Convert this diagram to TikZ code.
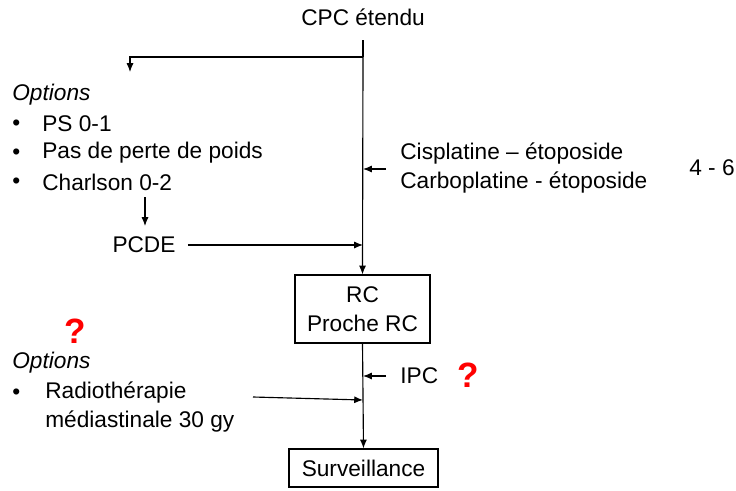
\documentclass[tikz,border=0pt]{standalone}
\usepackage{fontspec}
\setmainfont{Liberation Sans}
\usepackage{xcolor}
\usetikzlibrary{arrows.meta, positioning}

\begin{document}
\begin{tikzpicture}[
        x=0.02cm, y=-0.02cm,
        font=\fontsize{12.9}{16.4}\selectfont,
        box/.style={rectangle, draw, line width=0.65pt, minimum height=2em, inner sep=0pt},
        arrow/.style={line width=0.65pt, -{Latex[length=5pt, width=4pt]}},
        txt/.style={anchor=west, inner sep=0pt},
        ask/.style={text=red, font=\fontsize{20}{20}\selectfont\bfseries, inner sep=0pt}
    ]
        \useasboundingbox (0,0) rectangle (736,490);
        % main column
        \node[inner sep=0pt] (cpc) at (363,17) {CPC étendu};
        \node[box, minimum width=135*0.02cm, minimum height=68*0.02cm, align=center] (rc) at (362.5,309) {RC\\Proche RC};
        \node[box, minimum width=149*0.02cm, minimum height=38*0.02cm] (surv) at (363.5,468) {Surveillance};
        \coordinate (top) at (363,40);
        \coordinate (split) at (363,57);
        \coordinate (optin) at (130,72);
        \draw[line width=0.65pt] (top) -- (split);
        \draw[arrow] (split) -- (rc.north);
        \draw[arrow] (split) -| (optin);
        \draw[arrow] (rc.south) -- (surv.north);

        % first options
        \node[txt] (opt1) at (12,95) {\itshape Options};
        \node[txt] (b1) at (12,125) {•};
        \node[txt] (ps) at (42,124) {PS 0-1};
        \node[txt] (b2) at (12,154) {•};
        \node[txt] (poids) at (42,153) {Pas de perte de poids};
        \node[txt] (b3) at (12,183) {•};
        \node[txt] (charl) at (42,182) {Charlson 0-2};
        \node[inner sep=0pt] (pcde) at (144,245) {PCDE};
        \coordinate (pcdeout) at (145,197);
        \coordinate (pcdetop) at (145,226);
        \coordinate (pcdein) at (363,245);
        \draw[arrow] (pcdeout) -- (pcdetop);
        \draw[arrow] (pcde.east) ++(12,0) -- (pcdein);

        % chemotherapy
        \node[txt, align=left] (chimio) at (400,168) {Cisplatine – étoposide\\Carboplatine - étoposide};
        \node[txt] (cures) at (689,168) {4 - 6};
        \coordinate (chin) at (363,169);
        \draw[arrow] (386,169) -- (chin);

        % IPC
        \node[txt] (ipc) at (400,376) {IPC};
        \node[ask] (q1) at (468,375) {?};
        \coordinate (ipcin) at (363,376);
        \draw[arrow] (386,376) -- (ipcin);

        % second options
        \node[ask] (q2) at (75,331) {?};
        \node[txt] (opt2) at (12,363) {\itshape Options};
        \node[txt] (b4) at (12,394) {•};
        \node[txt] (radio) at (45,393) {Radiothérapie};
        \node[txt] (medi) at (45,421) {médiastinale 30 gy};
        \coordinate (radin) at (363,400);
        \draw[arrow] (253,397) -- (radin);
    \end{tikzpicture}
\end{document}
